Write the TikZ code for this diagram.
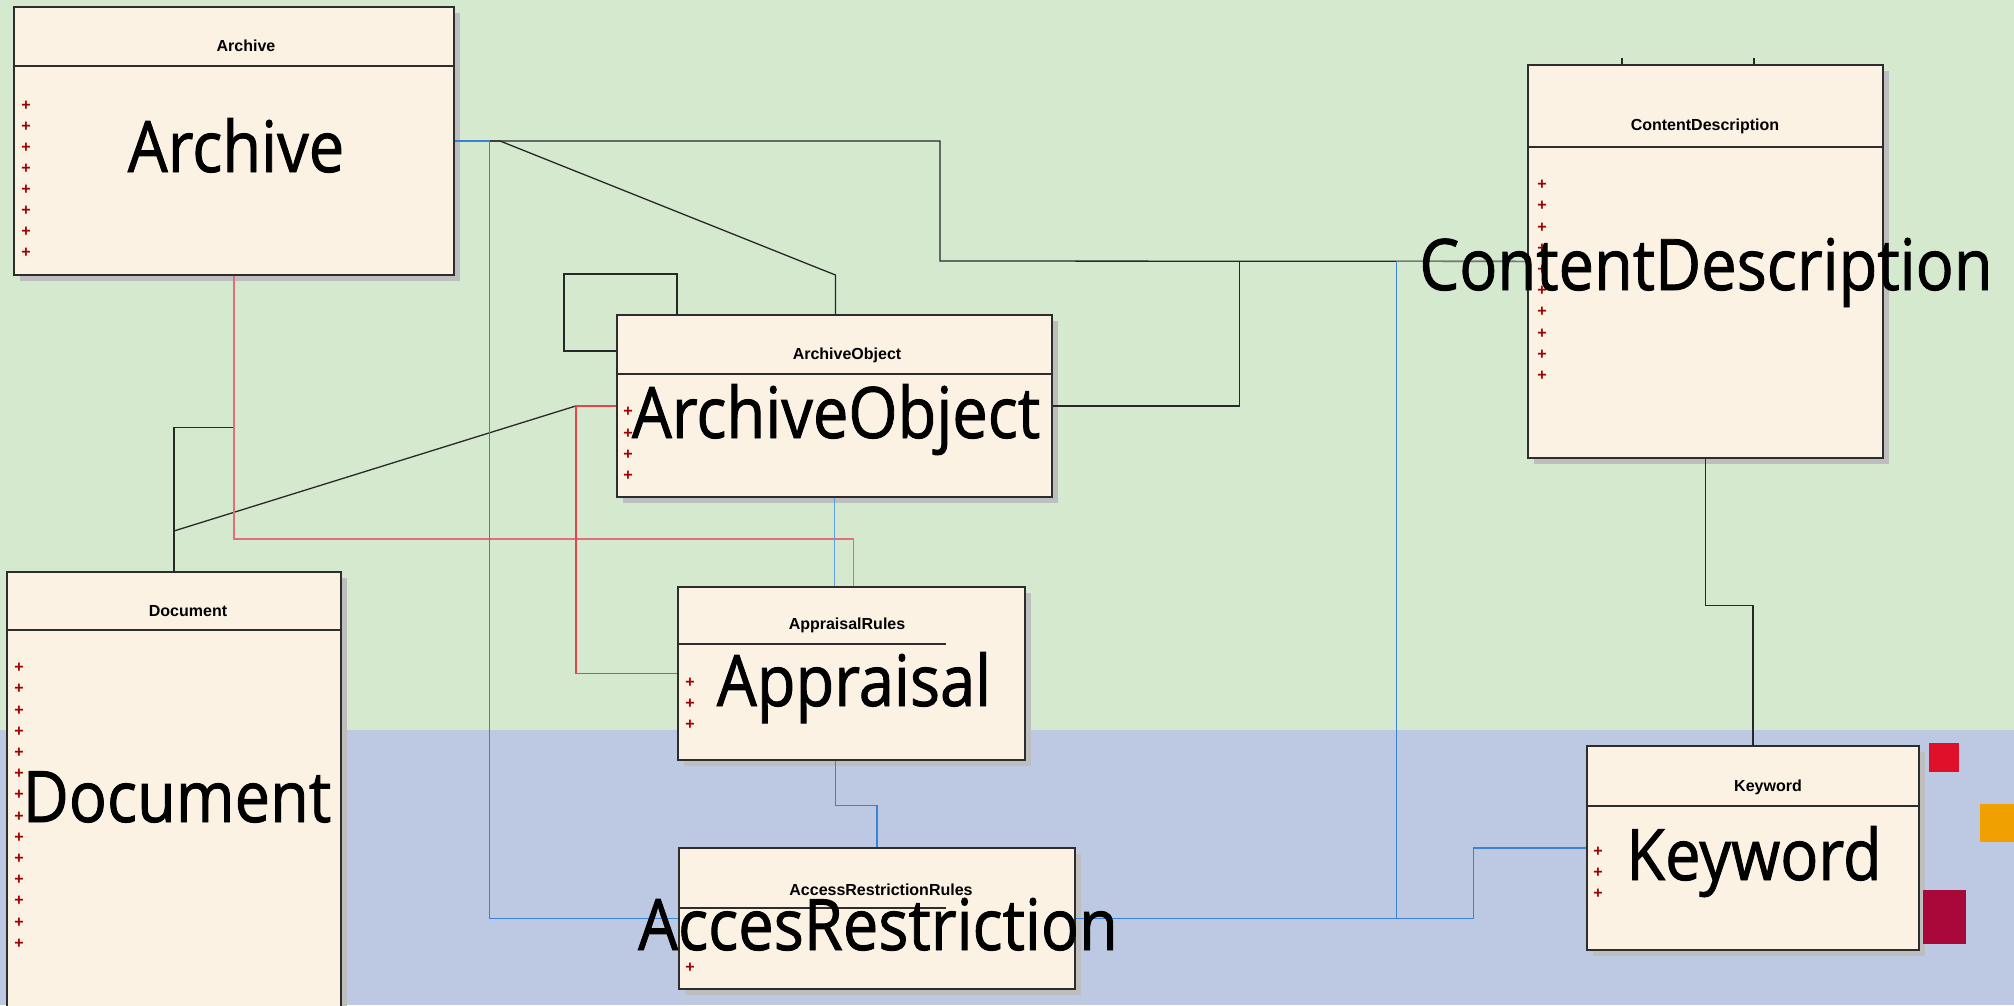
\documentclass[tikz,border=0pt]{standalone}
\usepackage{fontspec}
\setmainfont{Liberation Sans}
\newfontfamily\bigfont[FakeStretch=0.89, FakeBold=1.2]{Open Sans}
\usepackage{tikz}
\usetikzlibrary{
    positioning,
    calc,
    shadows
}
\definecolor{bgGreen}{RGB}{213, 233, 207}
\definecolor{bgBlue}{RGB}{189, 201, 227}
\definecolor{boxFill}{RGB}{251, 242, 228}
\definecolor{boxLine}{RGB}{45, 45, 45}
\definecolor{shadowGray}{RGB}{190, 190, 190}
\definecolor{plusRed}{RGB}{160, 0, 0}
\definecolor{lineBlack}{RGB}{40, 40, 40}
\definecolor{linkRed}{RGB}{232, 66, 74}
\definecolor{linkPink}{RGB}{226, 110, 124}
\definecolor{linkBlue}{RGB}{58, 130, 214}
\definecolor{linkSky}{RGB}{95, 160, 220}
\definecolor{markRed}{RGB}{224, 16, 42}
\definecolor{markOrange}{RGB}{240, 160, 0}
\definecolor{markWine}{RGB}{168, 8, 58}

\begin{document}
\begin{tikzpicture}[x=1pt, y=-1pt, >=stealth,
    classbox/.style={draw=boxLine, fill=boxFill, line width=1.8pt, anchor=north west, inner sep=0pt,
        drop shadow={shadow xshift=6pt, shadow yshift=-6pt, fill=shadowGray, opacity=1}},
    classtitle/.style={font=\bfseries\fontsize{16}{16}\selectfont, inner sep=0pt},
    classname/.style={font=\bigfont\fontsize{71}{71}\selectfont, anchor=base, inner sep=0pt},
    attr/.style={font=\bfseries\fontsize{16}{16}\selectfont, text=plusRed, inner sep=0pt},
    divider/.style={draw=boxLine, line width=1.5pt},
    assoc/.style={draw=lineBlack, line width=1.3pt},
    assocRed/.style={draw=linkRed, line width=1.3pt},
    assocPink/.style={draw=linkPink, line width=1.3pt},
    assocBlue/.style={draw=linkBlue, line width=1.3pt},
    assocSky/.style={draw=linkSky, line width=1.7pt}
]
    \useasboundingbox (0,0) rectangle (2014,1005);

    % Background bands
    \fill[bgGreen] (0,0) rectangle (2014,730);
    \fill[bgBlue] (0,730) rectangle (2014,1005);

    % Class boxes
    \node[classbox, minimum width=440pt, minimum height=268pt] (archive) at (13,6) {};
    \node[classbox, minimum width=435pt, minimum height=182pt] (aobj) at (616,314) {};
    \node[classbox, minimum width=355pt, minimum height=393pt] (content) at (1527,64) {};
    \node[classbox, minimum width=334pt, minimum height=450pt] (document) at (6,571) {};
    \node[classbox, minimum width=347pt, minimum height=173pt] (appraisal) at (677,586) {};
    \node[classbox, minimum width=396pt, minimum height=141pt] (access) at (678,847) {};
    \node[classbox, minimum width=332pt, minimum height=204pt] (keyword) at (1586,745) {};

    % Header dividers
    \draw[divider] ($(archive.north west)+(0,60)$) -- ($(archive.north east)+(0,60)$);
    \draw[divider] ($(aobj.north west)+(0,60)$) -- ($(aobj.north east)+(0,60)$);
    \draw[divider] ($(content.north west)+(0,83)$) -- ($(content.north east)+(0,83)$);
    \draw[divider] ($(document.north west)+(0,59)$) -- ($(document.north east)+(0,59)$);
    \draw[divider] ($(appraisal.north west)+(0,58)$) -- ++(269,0);
    \draw[divider] ($(access.north west)+(0,61)$) -- ++(268,0);
    \draw[divider] ($(keyword.north west)+(0,61)$) -- ++(332,0);

    % Black links
    \coordinate (bendArchive) at (940,261);
    \draw[assoc] (archive.east) -| (bendArchive) -- (content.west);
    \draw[assoc] (archive.east) -- ++(45,0) -- ($(aobj.north)+(1,-39)$) -- ($(aobj.north)+(1,0)$);
    \draw[assoc] (archive.south) -- ++(0,152) -| (document.north);
    \draw[assoc] ($(document.north)+(0,-40)$) -- ($(aobj.west)+(-40,0)$) -- (aobj.west);
    \draw[assoc] ($(aobj.north west)+(61,0)$) -- ++(0,-40) -- ++(-113,0) |- ($(aobj.west)+(0,-55)$);
    \draw[assoc] (aobj.east) -- ++(187,0) |- (content.west);
    \draw[assoc] (content.south) -- ++(0,147) -| (keyword.north);

    % Stubs above ContentDescription
    \draw[assoc] ($(content.north west)+(95,0)$) -- ++(0,-6);
    \draw[assoc] ($(content.north west)+(227,0)$) -- ++(0,-6);

    % Red links
    \draw[assocPink] (archive.south) |- ($(appraisal.north)+(2,-47)$) -- ($(appraisal.north)+(2,0)$);
    \draw[assocRed] (aobj.west) -- ++(-40,0) |- (appraisal.west);

    % Blue links
    \draw[assocSky] (aobj.south) -- (aobj.south |- appraisal.north);
    \draw[assocBlue] ($(appraisal.south)+(-16,0)$) -- ++(0,45) -| (access.north);
    \draw[assocBlue] (archive.east) -- ++(35,0) |- (access.west);
    \draw[assocBlue] (access.east) -- ++(321,0) |- (content.west);
    \draw[assocBlue] (access.east) -- ++(398,0) |- (keyword.west);

    % Titles
    \node[classtitle] (archiveT) at (246,46) {Archive};
    \node[classtitle] (aobjT) at (847,355) {ArchiveObject};
    \node[classtitle] (contentT) at (1705,126) {ContentDescription};
    \node[classtitle] (documentT) at (188,611) {Document};
    \node[classtitle] (appraisalT) at (847,625) {AppraisalRules};
    \node[classtitle] (accessT) at (881,890) {AccessRestrictionRules};
    \node[classtitle] (keywordT) at (1768,787) {Keyword};

    % Attribute markers
    \foreach \k in {0,...,7}
        \node[attr] (archiveP\k) at (26,{106+21*\k}) {+};
    \foreach \k in {0,...,3}
        \node[attr] (aobjP\k) at (628,{412+21.3*\k}) {+};
    \foreach \k in {0,...,9}
        \node[attr] (contentP\k) at (1542,{185+21.2*\k}) {+};
    \foreach \k in {0,...,13}
        \node[attr] (documentP\k) at (19,{668+21.2*\k}) {+};
    \foreach \k in {0,...,2}
        \node[attr] (appraisalP\k) at (690,{683+21*\k}) {+};
    \foreach \k in {0,1}
        \node[attr] (accessP\k) at (690,{947+21*\k}) {+};
    \foreach \k in {0,...,2}
        \node[attr] (keywordP\k) at (1598,{852+21*\k}) {+};

    % Large class names
    \node[classname] (archiveL) at (236,172) {Archive};
    \node[classname] (aobjL) at (836,438) {ArchiveObject};
    \node[classname] (contentL) at (1706,290) {ContentDescription};
    \node[classname] (documentL) at (177,822) {Document};
    \node[classname] (appraisalL) at (854,706) {Appraisal};
    \node[classname] (accessL) at (878,950) {AccesRestriction};
    \node[classname] (keywordL) at (1754,880) {Keyword};

    % Side marks
    \fill[markRed] (1929,743) rectangle (1959,772);
    \fill[markOrange] (1980,804) rectangle (2014,842);
    \fill[markWine] (1923,890) rectangle (1966,944);
\end{tikzpicture}
\end{document}
